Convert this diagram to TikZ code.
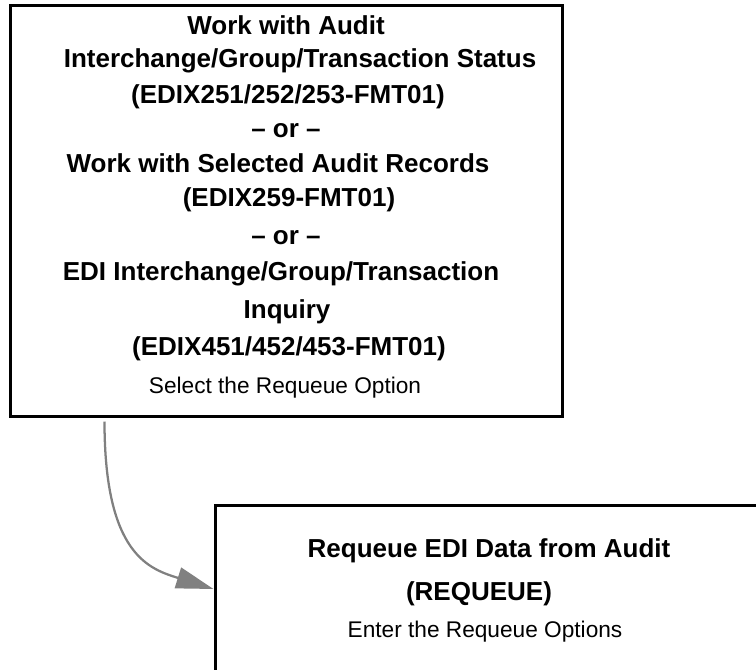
\documentclass[tikz,border=0pt]{standalone}
\usepackage{fontspec}
\setmainfont{Liberation Sans}
\usetikzlibrary{arrows.meta}
\tikzset{
  panel/.style={draw, line width=2.25pt, rectangle, inner sep=0pt},
  title/.style={font=\fontsize{19.5}{23}\selectfont\bfseries, anchor=base},
  hint/.style={font=\fontsize{17}{20}\selectfont, anchor=base},
  flow/.style={draw=gray, line width=1.7pt, -{Triangle[length=28pt, width=16pt]}}
}
\begin{document}
\begin{tikzpicture}[x=0.75pt, y=-0.75pt]
  \clip (0,0) rectangle (756,670);
  % screens
  \node[panel, minimum width=414pt, minimum height=307.5pt] (menu) at (286,211) {};
  \node[panel, minimum width=438.75pt, minimum height=126pt] (requeue) at (507.5,589) {};
  % first screen
  \node[title] (l1) at (286,35) {Work with Audit};
  \node[title] (l2) at (300,68) {Interchange/Group/Transaction Status};
  \node[title] (l3) at (288,104) {(EDIX251/252/253-FMT01)};
  \node[title] (l4) at (286,138) {– or –};
  \node[title] (l5) at (278,173) {Work with Selected Audit Records};
  \node[title] (l6) at (289,207) {(EDIX259-FMT01)};
  \node[title] (l7) at (286,244) {– or –};
  \node[title] (l8) at (281,281) {EDI Interchange/Group/Transaction};
  \node[title] (l9) at (287,318) {Inquiry};
  \node[title] (l10) at (289,355) {(EDIX451/452/453-FMT01)};
  \node[hint] (l11) at (285,393) {Select the Requeue Option};
  % second screen
  \node[title] (r1) at (489,557) {Requeue EDI Data from Audit};
  \node[title] (r2) at (479,600) {(REQUEUE)};
  \node[hint] (r3) at (485,637) {Enter the Requeue Options};
  % connector
  \draw[flow] ([xshift=72pt, yshift=-3pt]menu.south west)
    .. controls +(0,-100pt) and +(-48pt,15pt) .. (requeue.west);
\end{tikzpicture}
\end{document}
